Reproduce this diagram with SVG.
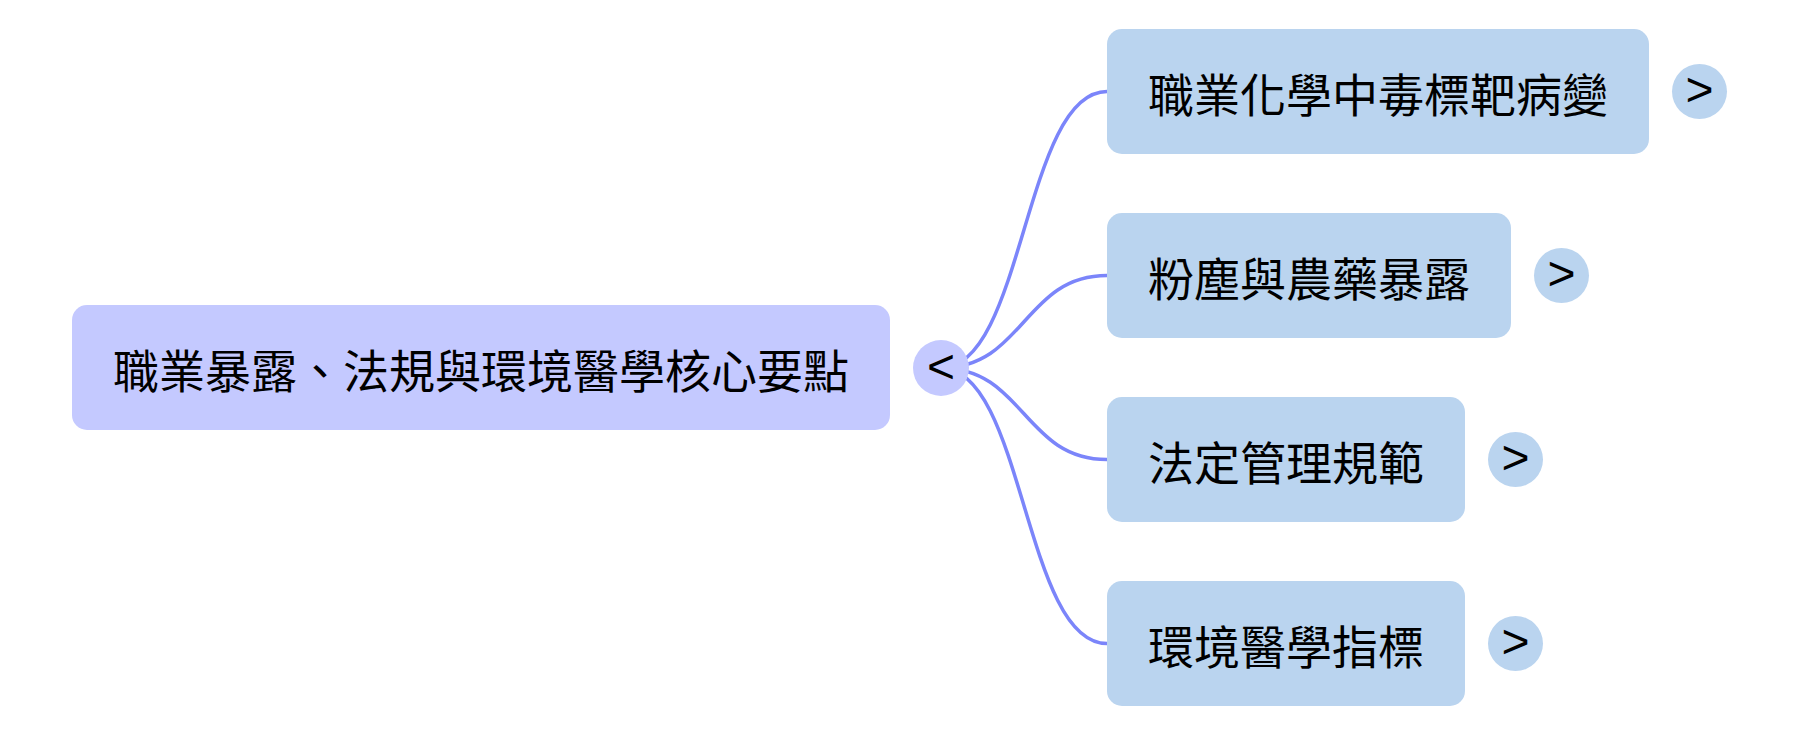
<svg xmlns="http://www.w3.org/2000/svg" width="1799" height="736" viewBox="0 0 1799 736">
<style>
.root{fill:#c4c9ff}
.child{fill:#bad4ef}
.lbl{font-family:"Noto Sans CJK TC","Noto Sans CJK SC",sans-serif;font-size:46px;fill:#000;text-anchor:middle;dominant-baseline:central}
.tg{font-family:"Liberation Sans",Arial,sans-serif;font-size:48px;fill:#000;text-anchor:middle;dominant-baseline:central}
.link{fill:none;stroke:#7b85fa;stroke-width:3.5}
</style>
<rect width="1799" height="736" fill="#fff"/>
<g id="connectors">
<path class="link" d="M941,368 C1024,368 1024,91.5 1107,91.5"/>
<path class="link" d="M941,368 C1024,368 1024,275.5 1107,275.5"/>
<path class="link" d="M941,368 C1024,368 1024,459.5 1107,459.5"/>
<path class="link" d="M941,368 C1024,368 1024,643.5 1107,643.5"/>
</g>
<g id="root">
<rect class="root" x="72" y="305" width="818" height="125" rx="15"/>
<text class="lbl" x="481" y="367.5">職業暴露、法規與環境醫學核心要點</text>
<circle class="root" cx="941" cy="368" r="28"/>
<text class="tg" x="941" y="366">&lt;</text>
</g>
<g id="n1">
<rect class="child" x="1107" y="29" width="542" height="125" rx="15"/>
<text class="lbl" x="1378" y="91.5">職業化學中毒標靶病變</text>
<circle class="child" cx="1699.5" cy="91.5" r="27.5"/>
<text class="tg" x="1699.5" y="89.5">&gt;</text>
</g>
<g id="n2">
<rect class="child" x="1107" y="213" width="404" height="125" rx="15"/>
<text class="lbl" x="1309" y="275.5">粉塵與農藥暴露</text>
<circle class="child" cx="1561.5" cy="275.5" r="27.5"/>
<text class="tg" x="1561.5" y="273.5">&gt;</text>
</g>
<g id="n3">
<rect class="child" x="1107" y="397" width="358" height="125" rx="15"/>
<text class="lbl" x="1286" y="459.5">法定管理規範</text>
<circle class="child" cx="1515.5" cy="459.5" r="27.5"/>
<text class="tg" x="1515.5" y="457.5">&gt;</text>
</g>
<g id="n4">
<rect class="child" x="1107" y="581" width="358" height="125" rx="15"/>
<text class="lbl" x="1286" y="643.5">環境醫學指標</text>
<circle class="child" cx="1515.5" cy="643.5" r="27.5"/>
<text class="tg" x="1515.5" y="641.5">&gt;</text>
</g>
</svg>
